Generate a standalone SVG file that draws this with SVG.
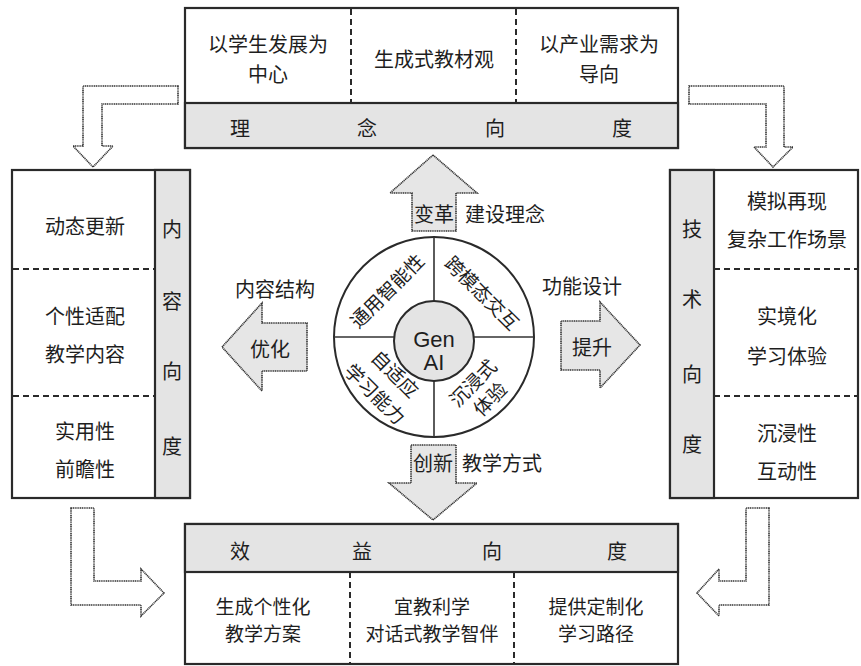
<svg xmlns="http://www.w3.org/2000/svg" width="861" height="666" viewBox="0 0 861 666">
<style>
text{font-family:"Noto Sans CJK SC","Noto Sans",sans-serif;fill:#1e1e1e;font-size:20px;text-anchor:middle;dominant-baseline:central}
.box{fill:#fff;stroke:#2a2a2a;stroke-width:2.2}
.gray{fill:#e4e4e4;stroke:#2a2a2a;stroke-width:2.2}
.dash{stroke:#2a2a2a;stroke-width:2;stroke-dasharray:6 4;fill:none}
.arr{fill:#e6e6e6;stroke:#333;stroke-width:1.6;stroke-dasharray:1.2 0.6}
.carr{fill:#fff;stroke:#333;stroke-width:1.6;stroke-dasharray:1.2 0.6}
.ln{stroke:#333;stroke-width:1.6;fill:none}
.q{font-size:19px}
.s{font-size:19px}
.l{text-anchor:start}
</style>
<rect width="861" height="666" fill="#fff"/>
<g id="top">
<rect class="box" x="185" y="8" width="493" height="140"/>
<rect class="gray" x="185" y="103" width="493" height="45"/>
<line class="dash" x1="351" y1="9" x2="351" y2="103"/>
<line class="dash" x1="516" y1="9" x2="516" y2="103"/>
<text x="268" y="43">以学生发展为</text><text x="268" y="73">中心</text>
<text x="434" y="58">生成式教材观</text>
<text x="599" y="43">以产业需求为</text><text x="599" y="73">导向</text>
<text x="240" y="127">理</text><text x="367" y="127">念</text><text x="495" y="127">向</text><text x="622" y="127">度</text>
</g>
<g id="left">
<rect class="box" x="12" y="170" width="178" height="328"/>
<rect class="gray" x="155" y="170" width="35" height="328"/>
<line class="dash" x1="13" y1="269" x2="155" y2="269"/>
<line class="dash" x1="13" y1="396" x2="155" y2="396"/>
<text x="85" y="225">动态更新</text>
<text x="85" y="315">个性适配</text><text x="85" y="353">教学内容</text>
<text x="85" y="430">实用性</text><text x="85" y="468">前瞻性</text>
<text x="172" y="228">内</text><text x="172" y="300">容</text><text x="172" y="370">向</text><text x="172" y="445">度</text>
</g>
<g id="right">
<rect class="box" x="670" y="170" width="188" height="328"/>
<rect class="gray" x="670" y="170" width="44" height="328"/>
<line class="dash" x1="714" y1="269" x2="857" y2="269"/>
<line class="dash" x1="714" y1="396" x2="857" y2="396"/>
<text x="787" y="200">模拟再现</text><text x="787" y="238">复杂工作场景</text>
<text x="787" y="315">实境化</text><text x="787" y="355">学习体验</text>
<text x="787" y="432">沉浸性</text><text x="787" y="470">互动性</text>
<text x="692" y="228">技</text><text x="692" y="298">术</text><text x="692" y="373">向</text><text x="692" y="443">度</text>
</g>
<g id="bottom">
<rect class="box" x="185" y="524" width="493" height="140"/>
<rect class="gray" x="185" y="524" width="493" height="48"/>
<line class="dash" x1="350" y1="572" x2="350" y2="664"/>
<line class="dash" x1="514" y1="572" x2="514" y2="664"/>
<text x="240" y="550">效</text><text x="362" y="550">益</text><text x="492" y="550">向</text><text x="617" y="550">度</text>
<text class="s" x="263" y="605">生成个性化</text><text class="s" x="263" y="632">教学方案</text>
<text class="s" x="432" y="605">宜教利学</text><text class="s" x="432" y="632">对话式教学智伴</text>
<text class="s" x="596" y="605">提供定制化</text><text class="s" x="596" y="632">学习路径</text>
</g>
<g id="center">
<circle cx="434" cy="337" r="100" fill="#fff" stroke="#2a2a2a" stroke-width="2"/>
<line class="ln" x1="434" y1="237" x2="434" y2="437"/>
<line class="ln" x1="334" y1="337" x2="534" y2="337"/>
<circle cx="434" cy="341" r="40" fill="#e4e4e4" stroke="#2a2a2a" stroke-width="2"/>
<text x="434" y="339" style="font-family:'Liberation Sans',Arial,sans-serif;font-size:22px">Gen</text>
<text x="434" y="362" style="font-family:'Liberation Sans',Arial,sans-serif;font-size:22px">AI</text>
<text class="q" transform="translate(386,290) rotate(-45)">通用智能性</text>
<text class="q" transform="translate(483,292) rotate(45)">跨模态交互</text>
<text class="q" transform="translate(396,373) rotate(45)">自适应</text>
<text class="q" transform="translate(376,393) rotate(45)">学习能力</text>
<text class="q" transform="translate(472,382) rotate(-45)">沉浸式</text>
<text class="q" transform="translate(489,398) rotate(-45)">体验</text>
</g>
<g id="connectors">
<path class="arr" d="M433,155 L477,193 L456,193 L456,231 L412,231 L412,193 L390,193 Z"/>
<text x="434" y="213">变革</text><text class="l" x="465" y="213">建设理念</text>
<path class="arr" d="M222,347 L262,303 L262,323 L307,323 L307,371 L262,371 L262,391 Z"/>
<text x="270" y="348">优化</text><text x="275" y="288">内容结构</text>
<path class="arr" d="M640,345 L600,302 L600,321 L561,321 L561,370 L600,370 L600,388 Z"/>
<text x="592" y="346">提升</text><text x="582" y="285">功能设计</text>
<path class="arr" d="M433,520 L477,483 L456,483 L456,445 L411,445 L411,483 L389,483 Z"/>
<text x="433" y="462">创新</text><text class="l" x="462" y="462">教学方式</text>
<path class="carr" d="M178,86 L83,86 L83,146 L73,146 L93,167 L113,146 L102,146 L102,104 L178,104 Z"/>
<path class="carr" d="M689,86 L784,86 L784,147 L793,147 L773,167 L754,147 L766,147 L766,104 L689,104 Z"/>
<path class="carr" d="M71,508 L94,508 L94,581 L141,581 L141,569 L164,593 L141,616 L141,605 L71,605 Z"/>
<path class="carr" d="M769,508 L746,508 L746,581 L719,581 L719,569 L697,593 L719,616 L719,605 L769,605 Z"/>
</g>
</svg>
